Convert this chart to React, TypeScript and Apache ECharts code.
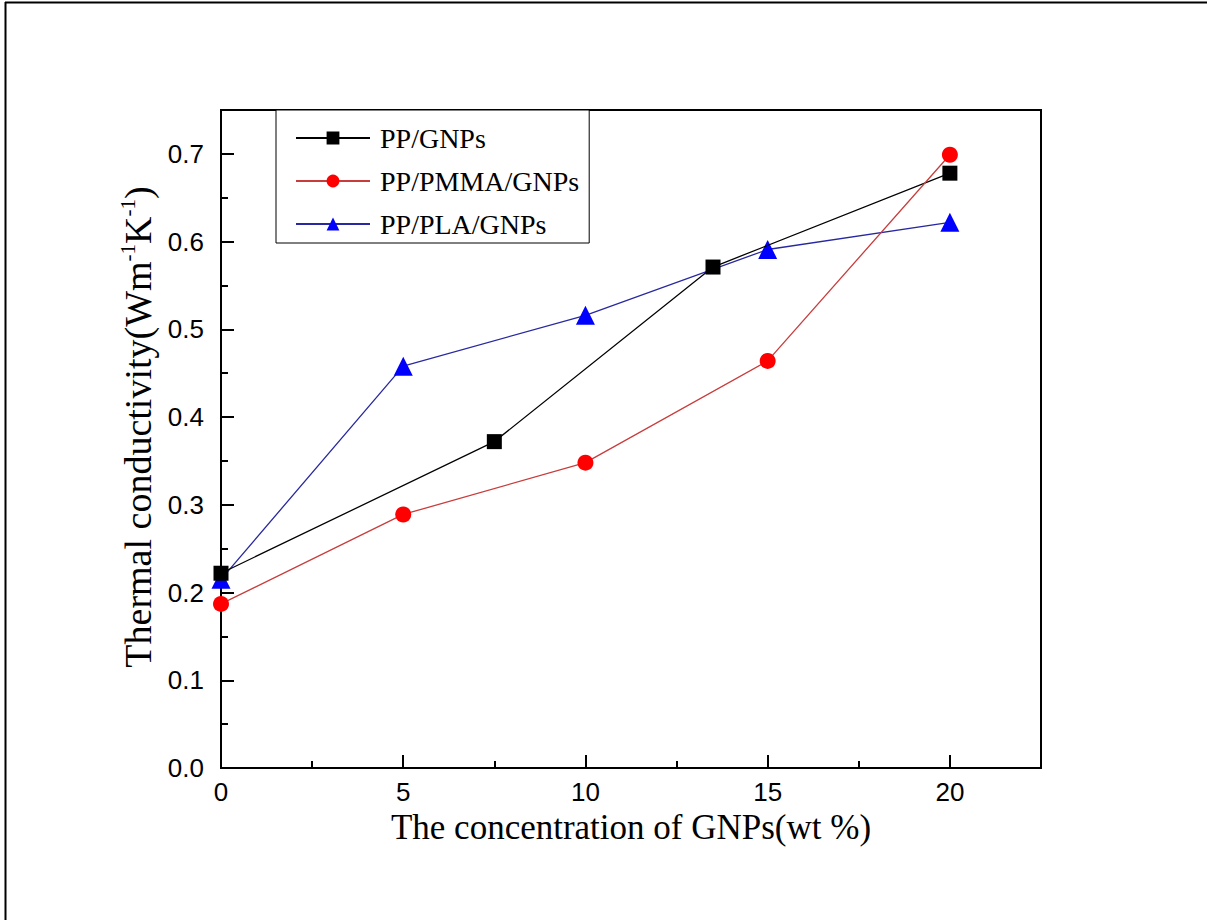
import React, { useEffect, useRef } from "react";
import * as echarts from "echarts";

const xGNP = [0, 7.5, 13.5, 20];
const yGNP = [0.222, 0.372, 0.571, 0.678];
const xPMMA = [0, 5, 10, 15, 20];
const yPMMA = [0.187, 0.289, 0.348, 0.464, 0.699];
const xPLA = [0, 5, 10, 15, 20];
const yPLA = [0.215, 0.458, 0.516, 0.591, 0.622];
const seriesNames = ["PP/GNPs", "PP/PMMA/GNPs", "PP/PLA/GNPs"];

const zip = (xs: number[], ys: number[]) => xs.map((x, i) => [x, ys[i]]);

export default function App() {
  const ref = useRef<HTMLDivElement>(null);
  useEffect(() => {
    if (!ref.current) return;
    const chart = echarts.init(ref.current, undefined, { renderer: "svg" });
    const serif = "Liberation Serif";
    const sans = "Liberation Sans";
    chart.setOption({
      animation: false,
      backgroundColor: "#fff",
      grid: {
        left: 221,
        top: 110,
        right: 166,
        bottom: 152,
        show: true,
        borderColor: "#000",
        borderWidth: 2,
        backgroundColor: "transparent",
      },
      legend: {
        left: 276,
        top: 110,
        orient: "vertical",
        backgroundColor: "#fff",
        borderColor: "#000",
        borderWidth: 1,
        borderRadius: 0,
        padding: [14, 10, 5, 19],
        itemWidth: 74,
        itemHeight: 16,
        itemGap: 15,
        data: seriesNames,
        textStyle: {
          fontFamily: serif,
          fontSize: 28,
          lineHeight: 28,
          color: "#000",
          padding: [0, 0, 0, 5],
        },
      },
      xAxis: {
        type: "value",
        min: 0,
        max: 22.5,
        interval: 5,
        name: "The concentration of GNPs(wt %)",
        nameLocation: "middle",
        nameGap: 42,
        nameMoveOverlap: false,
        nameTextStyle: { fontFamily: serif, fontSize: 35, color: "#000" },
        axisLine: { show: true, lineStyle: { color: "#000", width: 2 } },
        axisTick: { show: true, inside: true, length: 13, lineStyle: { color: "#000", width: 2 } },
        minorTick: { show: true, splitNumber: 2, length: 7, lineStyle: { color: "#000", width: 2 } },
        splitLine: { show: false },
        axisLabel: {
          fontFamily: sans,
          fontSize: 26,
          color: "#000",
          margin: 11,
          formatter: (v: number) => (v > 20 ? "" : String(v)),
        },
      },
      yAxis: {
        type: "value",
        min: 0,
        max: 0.75,
        interval: 0.1,
        name: "Thermal conductivity(Wm{sup|-1}K{sup|-1})",
        nameLocation: "middle",
        nameRotate: 90,
        nameGap: 62,
        nameMoveOverlap: false,
        nameTextStyle: {
          fontFamily: serif,
          fontSize: 38,
          color: "#000",
          padding: [0, 0, 0, 24],
          rich: {
            sup: { fontFamily: serif, fontSize: 21, color: "#000", verticalAlign: "top", lineHeight: 42 },
          },
        },
        axisLine: { show: true, lineStyle: { color: "#000", width: 2 } },
        axisTick: { show: true, inside: true, length: 13, lineStyle: { color: "#000", width: 2 } },
        minorTick: { show: true, splitNumber: 2, length: 7, lineStyle: { color: "#000", width: 2 } },
        splitLine: { show: false },
        axisLabel: {
          fontFamily: sans,
          fontSize: 26,
          color: "#000",
          margin: 17,
          formatter: (v: number) => (v > 0.71 ? "" : v.toFixed(1)),
        },
      },
      series: [
        {
          name: seriesNames[0],
          type: "line",
          data: zip(xGNP, yGNP),
          symbol: "rect",
          symbolSize: 15,
          itemStyle: { color: "#000" },
          lineStyle: { color: "#000", width: 1.3 },
          z: 3,
        },
        {
          name: seriesNames[1],
          type: "line",
          data: zip(xPMMA, yPMMA),
          symbol: "circle",
          symbolSize: 16,
          itemStyle: { color: "#ff0000" },
          lineStyle: { color: "#c83c3c", width: 1.3 },
          z: 4,
        },
        {
          name: seriesNames[2],
          type: "line",
          data: zip(xPLA, yPLA),
          symbol: "triangle",
          symbolSize: 19,
          itemStyle: { color: "#0000ff" },
          lineStyle: { color: "#2828a0", width: 1.3 },
          z: 2,
        },
      ],
      graphic: [
        { type: "line", shape: { x1: 5, y1: 2.5, x2: 1207, y2: 2.5 }, style: { stroke: "#000", lineWidth: 2 } },
        { type: "line", shape: { x1: 5.5, y1: 2, x2: 5.5, y2: 920 }, style: { stroke: "#000", lineWidth: 2 } },
      ],
    });
    return () => chart.dispose();
  }, []);
  return (
    <div
      ref={ref}
      style={{ position: "absolute", left: 0, top: 0, width: 1207, height: 920, background: "#fff" }}
    />
  );
}
